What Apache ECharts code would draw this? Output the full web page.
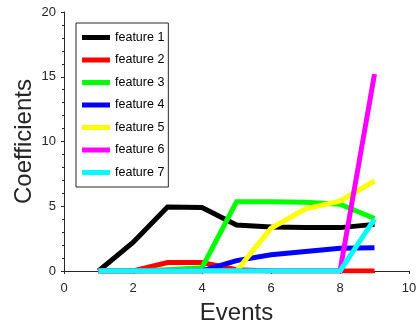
<!DOCTYPE html>
<html><head><meta charset="utf-8">
<script src="https://cdn.jsdelivr.net/npm/echarts@6/dist/echarts.min.js"></script>
<style>html,body{margin:0;padding:0;background:#fff}#c{width:418px;height:324px}</style>
</head><body><div id="c"></div>
<script>
const events = [1,2,3,4,5,6,7,8,9];
const names = ['feature 1','feature 2','feature 3','feature 4','feature 5','feature 6','feature 7'];
const colors = ['#000000','#ff0000','#00ff00','#0000ff','#ffff00','#ff00ff','#00ffff'];
const f1 = [0,2.2,4.95,4.9,3.55,3.4,3.35,3.35,3.6];
const f2 = [0,0,0.65,0.65,0.1,0,0,0,0];
const f3 = [0,0,0.1,0.25,5.35,5.35,5.3,5.15,4.05];
const f4 = [0,0,0,0,0.8,1.25,1.5,1.75,1.8];
const f5 = [0,0,0,0,0,3.3,4.8,5.4,6.95];
const f6 = [0,0,0,0,0,0,0,0,15.2];
const f7 = [0,0,0,0,0,0,0,0,4.0];
const xTicks = [0,2,4,6,8,10];
const yTicks = [0,5,10,15,20];
const all = [f1,f2,f3,f4,f5,f6,f7];
const chart = echarts.init(document.getElementById('c'));
const font = 'Liberation Sans, Arial, sans-serif';
chart.setOption({
  animation:false,
  textStyle:{fontFamily:font},
  grid:{left:64,right:9,top:12,bottom:53,containLabel:false,outerBoundsMode:'none'},
  legend:{
    orient:'vertical',left:76,top:23,padding:[8,4,8,6],itemGap:9.5,
    itemWidth:28,itemHeight:5,icon:'rect',
    borderColor:'#262626',borderWidth:1,backgroundColor:'#fff',
    textStyle:{fontSize:12.5,color:'#000',fontFamily:font},
    data:names
  },
  xAxis:{type:'value',min:xTicks[0],max:xTicks[xTicks.length-1],interval:2,
    name:'Events',nameLocation:'middle',nameGap:30,nameMoveOverlap:false,
    nameTextStyle:{fontSize:24,color:'#262626',fontFamily:font},
    axisLine:{lineStyle:{color:'#262626',width:1}},
    axisTick:{length:3,lineStyle:{color:'#262626'}},
    minorTick:{show:true,splitNumber:2,length:2,lineStyle:{color:'#262626'}},
    axisLabel:{fontSize:13,color:'#262626',margin:11},
    splitLine:{show:false}},
  yAxis:{type:'value',min:yTicks[0],max:yTicks[yTicks.length-1],interval:5,
    name:'Coefficients',nameLocation:'middle',nameGap:28,nameMoveOverlap:false,
    nameTextStyle:{fontSize:24,color:'#262626',fontFamily:font},
    axisLine:{show:true,lineStyle:{color:'#262626',width:1}},
    axisTick:{show:true,length:3,lineStyle:{color:'#262626'}},
    minorTick:{show:true,splitNumber:5,length:2,lineStyle:{color:'#262626'}},
    axisLabel:{fontSize:13,color:'#262626',margin:8},
    splitLine:{show:false}},
  series: names.map((n,i)=>({
    name:n,type:'line',showSymbol:false,symbol:'none',
    data: events.map((e,j)=>[e,all[i][j]]),
    lineStyle:{width:5,color:colors[i],cap:'butt',join:'miter'},
    itemStyle:{color:colors[i]}
  }))
});
</script></body></html>
